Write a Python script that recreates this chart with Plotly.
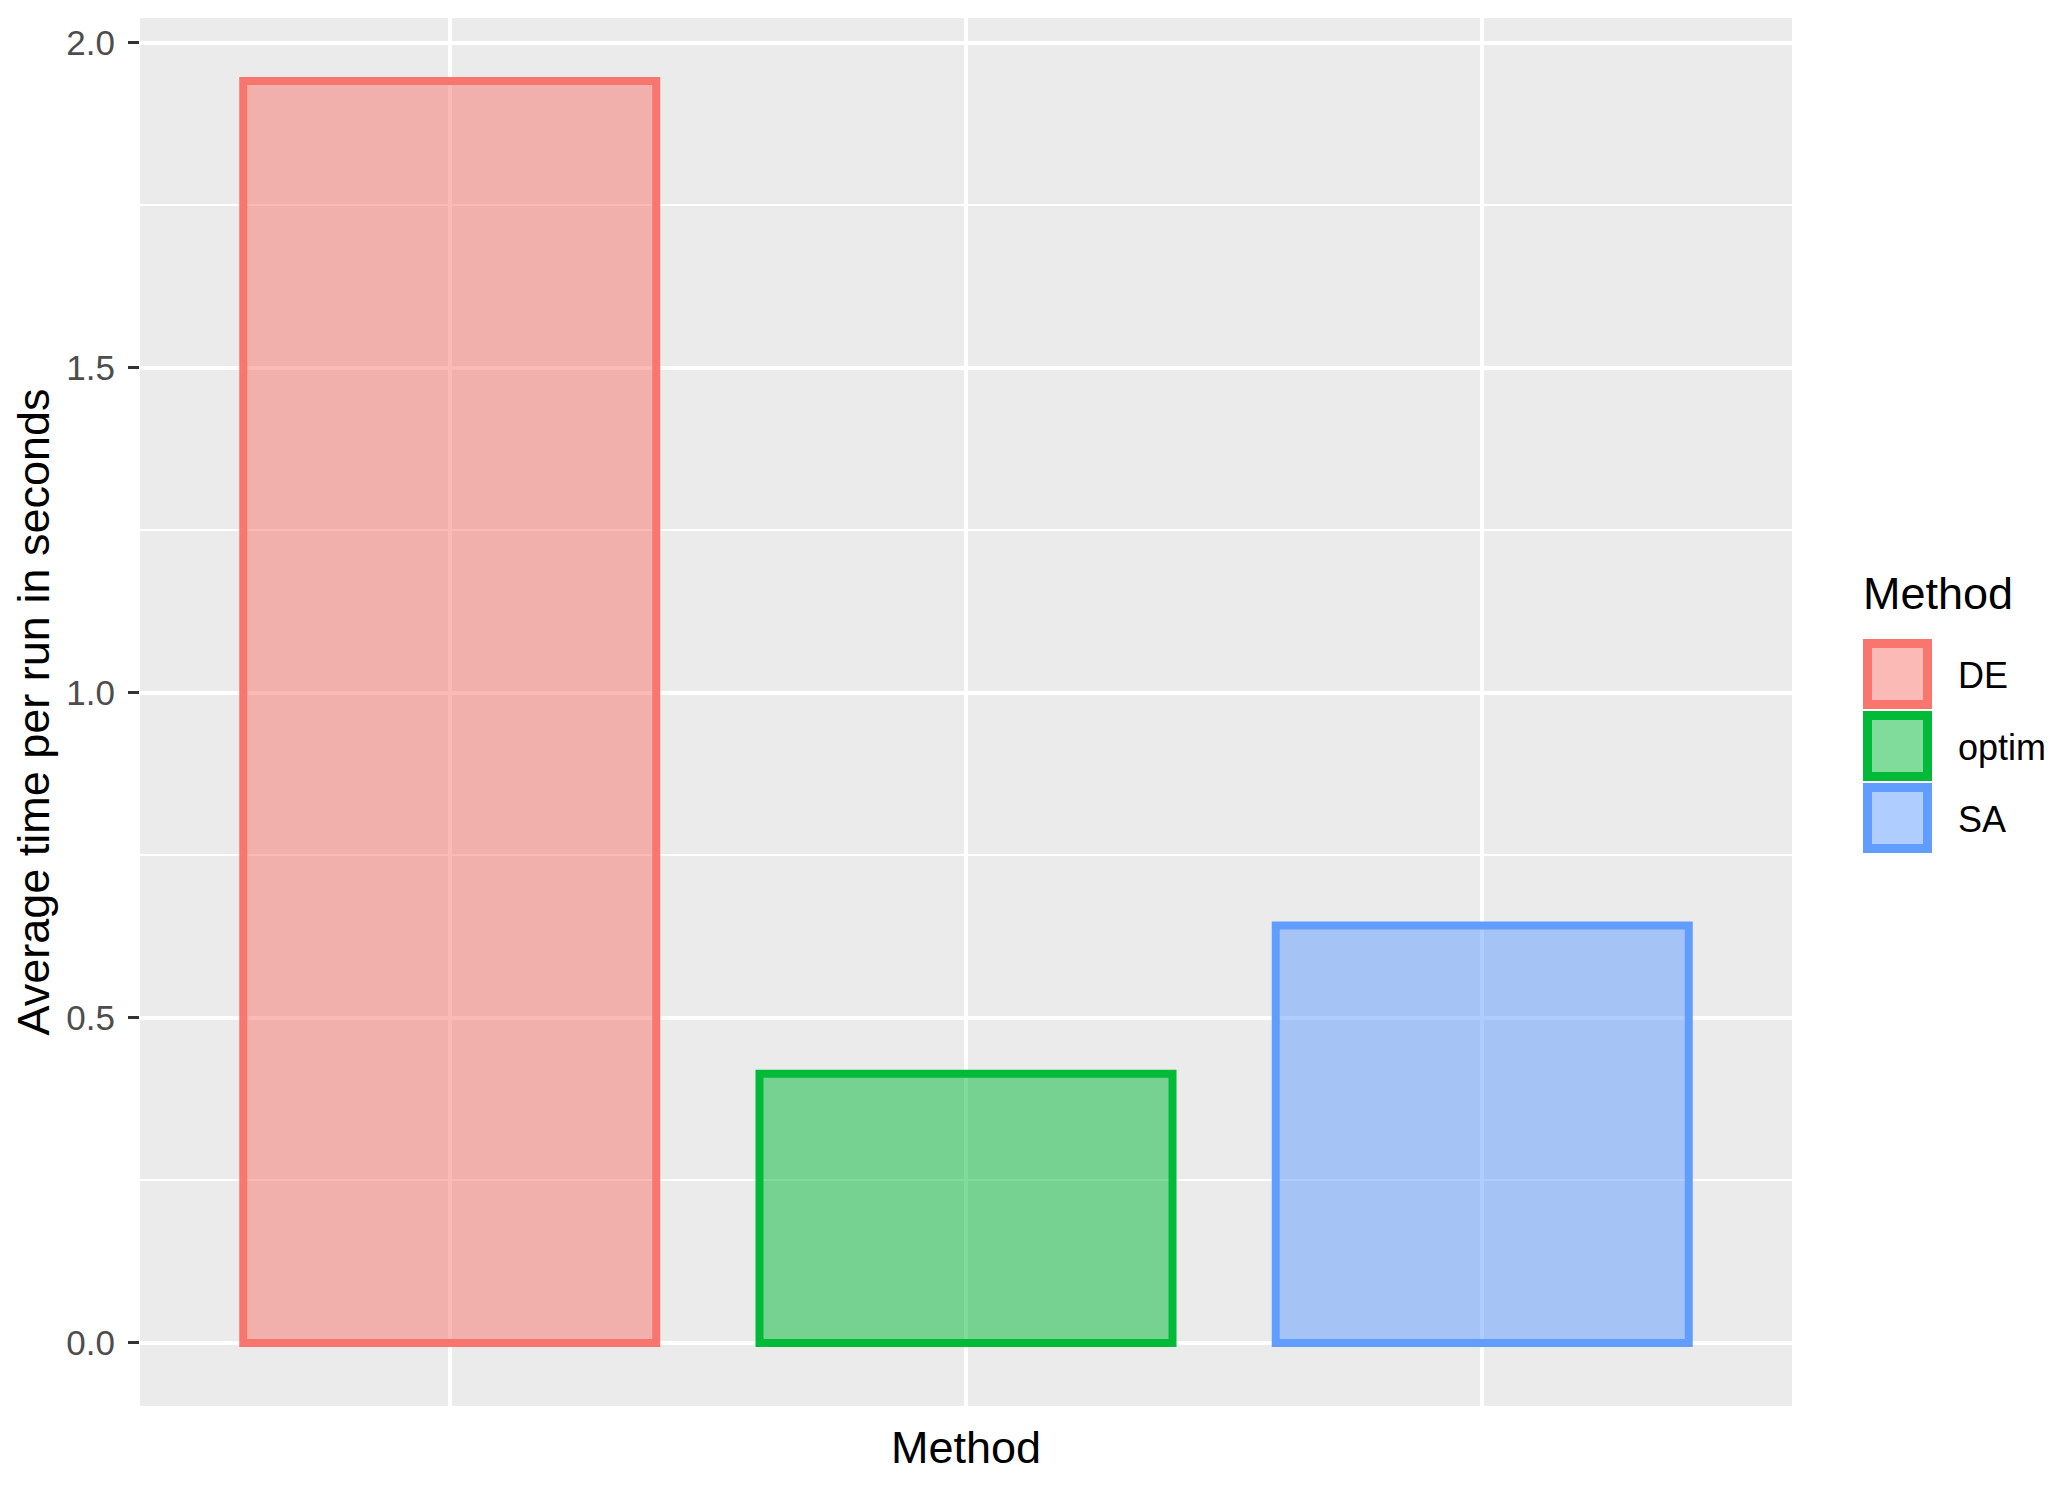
import plotly.graph_objects as go

# data
methods = ['DE', 'optim', 'SA']
avg_time = [1.941, 0.414, 0.642]
colors = ['#F8766D', '#00BA38', '#619CFF']
fills = ['rgba(248,118,109,0.5)', 'rgba(0,186,56,0.5)', 'rgba(97,156,255,0.5)']

# page has an 8px body margin, so the figure is shrunk and shifted by that
OFF = 8
W, H = 2058 - OFF, 1486 - OFF
L, R, T, B = 140 - OFF, 266, 18 - OFF, 80
pw, ph = W - L - R, H - T - B

# screen pixel -> paper coords
def px_x(x):
    return (x - OFF - L) / pw

def px_y(y):
    return (H - B - (y - OFF)) / ph

fig = go.Figure()
for m, v, c, f in zip(methods, avg_time, colors, fills):
    fig.add_trace(go.Bar(x=[m], y=[v], name=m, width=0.8,
                         marker=dict(color=f, line=dict(color=c, width=8)),
                         showlegend=False))

# ggplot-like legend with big keys
shapes = []
annotations = [dict(text='Method', x=px_x(1861), y=px_y(594), xref='paper', yref='paper',
                    xanchor='left', yanchor='middle', showarrow=False,
                    font=dict(size=45, color='black'))]
key_top = 639
for i, (m, c, f) in enumerate(zip(methods, colors, fills)):
    y0 = key_top + i * 72
    shapes.append(dict(type='rect', xref='paper', yref='paper',
                       x0=px_x(1867.5), x1=px_x(1927.5),
                       y0=px_y(y0 + 4.5), y1=px_y(y0 + 65.5),
                       fillcolor=f, line=dict(color=c, width=9)))
    annotations.append(dict(text=m, x=px_x(1956), y=px_y(y0 + 36), xref='paper', yref='paper',
                            xanchor='left', yanchor='middle', showarrow=False,
                            font=dict(size=36, color='black')))

fig.update_layout(
    width=W, height=H,
    margin=dict(l=L, r=R, t=T, b=B),
    paper_bgcolor='white', plot_bgcolor='#EBEBEB',
    font=dict(family='Liberation Sans, Arial, sans-serif'),
    bargap=0.2,
    shapes=shapes, annotations=annotations,
    xaxis=dict(range=[-0.6, 2.6], showticklabels=False, ticks='',
               showgrid=True, gridcolor='white', gridwidth=4, zeroline=False,
               title=dict(text='Method', font=dict(size=45, color='black'), standoff=25)),
    yaxis=dict(range=[-0.097, 2.038], tickvals=[0, 0.5, 1.0, 1.5, 2.0], tickformat='.1f',
               ticks='outside', ticklen=11, tickwidth=3, tickcolor='#333333',
               tickfont=dict(size=35, color='#4D4D4D'), ticklabelstandoff=6,
               showgrid=True, gridcolor='white', gridwidth=4, zeroline=False,
               minor=dict(tickvals=[0.25, 0.75, 1.25, 1.75], showgrid=True,
                          gridcolor='white', gridwidth=2, ticks=''),
               title=dict(text='Average time per run in seconds',
                          font=dict(size=45, color='black'), standoff=9)),
)

fig.write_html('out.html')
